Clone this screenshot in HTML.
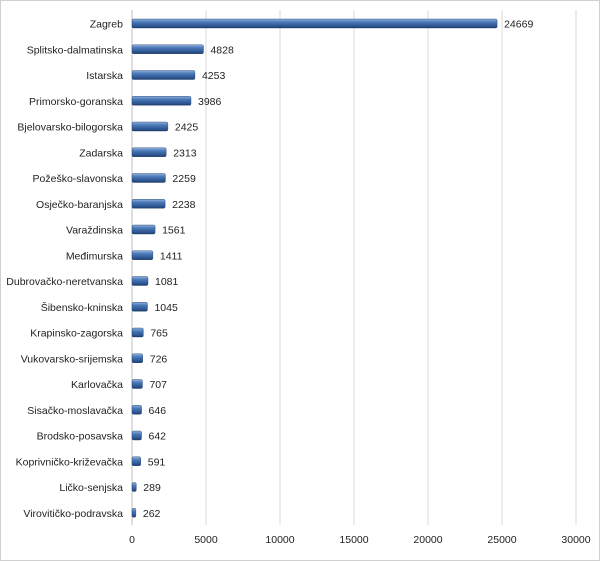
<!DOCTYPE html>
<html><head><meta charset="utf-8"><style>
body{margin:0;background:#fff}
svg{display:block;font-family:"Liberation Sans",sans-serif}
</style></head><body>
<svg width="600" height="561">
<rect x="0.5" y="0.5" width="599" height="560" fill="#fff" stroke="#d0d0d0"/>
<defs><linearGradient id="g" x1="0" y1="0" x2="0" y2="1">
<stop offset="0" stop-color="#8fb0dc"/><stop offset="0.35" stop-color="#4a78b8"/><stop offset="0.8" stop-color="#2c5590"/><stop offset="1" stop-color="#1e3c6a"/></linearGradient></defs>
<g id="grid"></g><g id="bars"></g><g id="labels"></g><g id="ticks"></g>
</svg>
<script>
const categories=["Zagreb","Splitsko-dalmatinska","Istarska","Primorsko-goranska","Bjelovarsko-bilogorska","Zadarska","Požeško-slavonska","Osječko-baranjska","Varaždinska","Međimurska","Dubrovačko-neretvanska","Šibensko-kninska","Krapinsko-zagorska","Vukovarsko-srijemska","Karlovačka","Sisačko-moslavačka","Brodsko-posavska","Koprivničko-križevačka","Ličko-senjska","Virovitičko-podravska"];
const values=[24669,4828,4253,3986,2425,2313,2259,2238,1561,1411,1081,1045,765,726,707,646,642,591,289,262];
const tickValues=[0,5000,10000,15000,20000,25000,30000];
const ns="http://www.w3.org/2000/svg";
const x0=132,x1=576,maxV=30000,y0=23.5,step=25.75,bh=9;
const xs=v=>x0+(x1-x0)*v/maxV, ys=i=>y0+i*step;
function mk(t,a,p){const e=document.createElementNS(ns,t);for(const k in a)e.setAttribute(k,a[k]);p.appendChild(e);return e;}
const G=document.getElementById('grid'),B=document.getElementById('bars'),L=document.getElementById('labels'),T=document.getElementById('ticks');
tickValues.forEach(v=>{
 const l=mk('line',{x1:xs(v),x2:xs(v),y1:10,y2:525,stroke:v===0?'#bdbdbd':'#d9d9d9'},G);
 
 
 const t=mk('text',{x:xs(v),y:543,'text-anchor':'middle','font-size':10.5,fill:'#222'},T);
 t.textContent=v;
 
 
});
categories.forEach((c,i)=>{
 const y=ys(i);
 const r=mk('rect',{x:x0,y:y-bh/2,width:Math.max(3,xs(values[i])-x0),height:bh,rx:1.5,fill:'url(#g)',stroke:'#1e3c6a','stroke-width':0.4},B);
 
 
 const t=mk('text',{x:123,y:y+4,'text-anchor':'end','font-size':10.5,fill:'#222'},L);
 t.textContent=c;
 
 
 const v=mk('text',{x:xs(values[i])+7,y:y+4,'font-size':10.5,fill:'#222'},L);
 v.textContent=values[i];
 
 
});
</script>
</body></html>
